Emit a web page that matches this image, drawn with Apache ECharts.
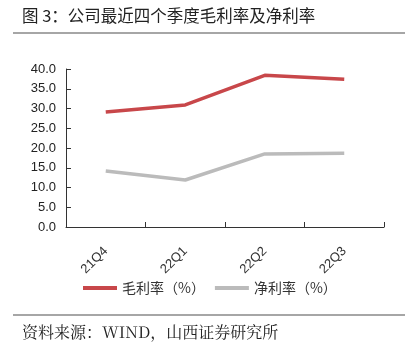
<!DOCTYPE html>
<html>
<head>
<meta charset="utf-8">
<script src="https://cdn.jsdelivr.net/npm/echarts@6/dist/echarts.min.js"></script>
<style>
  html, body { margin: 0; padding: 0; background: #fff; }
  #chart { width: 413px; height: 351px; }
</style>
</head>
<body>
<div id="chart"></div>
<script>
var quarters = ['21Q4', '22Q1', '22Q2', '22Q3']
var grossMargin = [29.1, 30.9, 38.4, 37.4]
var netMargin = [14.2, 11.9, 18.5, 18.7]
var seriesNames = ['毛利率（%）', '净利率（%）']

var chart = echarts.init(document.getElementById('chart'))
var cjk = '"Noto Sans CJK SC", sans-serif'

chart.setOption({
  animation: false,
  title: {
    text: '图 3：公司最近四个季度毛利率及净利率',
    left: 17,
    top: 2,
    textStyle: { fontFamily: cjk, fontSize: 16.5, fontWeight: 'normal', color: '#222' }
  },
  graphic: [
    { type: 'line', shape: { x1: 13, y1: 33, x2: 405, y2: 33 }, style: { stroke: '#888', lineWidth: 1.5 } },
    { type: 'line', shape: { x1: 13, y1: 315, x2: 405, y2: 315 }, style: { stroke: '#888', lineWidth: 1.5 } },
    {
      type: 'text', left: 22, top: 324,
      style: { text: '资料来源：WIND，山西证券研究所', font: '16px "Noto Serif CJK SC", "Noto Sans CJK SC", serif', fill: '#222' }
    }
  ],
  legend: {
    top: 276,
    left: 78,
    itemWidth: 34,
    itemHeight: 4,
    itemGap: 10,
    icon: 'rect',
    textStyle: { fontFamily: cjk, fontSize: 14, color: '#333' },
    data: seriesNames
  },
  grid: { left: 66, right: 29, top: 69, bottom: 124 },
  xAxis: {
    type: 'category',
    data: quarters,
    boundaryGap: true,
    axisLine: { lineStyle: { color: '#333', width: 1 } },
    axisTick: { show: true, inside: true, length: 5, lineStyle: { color: '#333' } },
    axisLabel: { rotate: 45, margin: 22, fontSize: 13, color: '#333', fontFamily: 'Liberation Sans, Arial' }
  },
  yAxis: {
    type: 'value',
    min: 0,
    max: 40,
    interval: 5,
    splitLine: { show: false },
    axisLine: { show: true, lineStyle: { color: '#333', width: 1 } },
    axisTick: { show: true, inside: true, length: 5, lineStyle: { color: '#333' } },
    axisLabel: {
      margin: 10, fontSize: 13, color: '#222', fontFamily: 'Liberation Sans, Arial',
      formatter: function (v) { return v.toFixed(1) }
    }
  },
  series: [
    {
      name: seriesNames[0],
      type: 'line',
      data: grossMargin,
      symbol: 'none',
      color: '#C8474A',
      lineStyle: { width: 3.5, color: '#C8474A' }
    },
    {
      name: seriesNames[1],
      type: 'line',
      data: netMargin,
      symbol: 'none',
      color: '#BBBBBB',
      lineStyle: { width: 3.5, color: '#BBBBBB' }
    }
  ]
})
</script>
</body>
</html>
